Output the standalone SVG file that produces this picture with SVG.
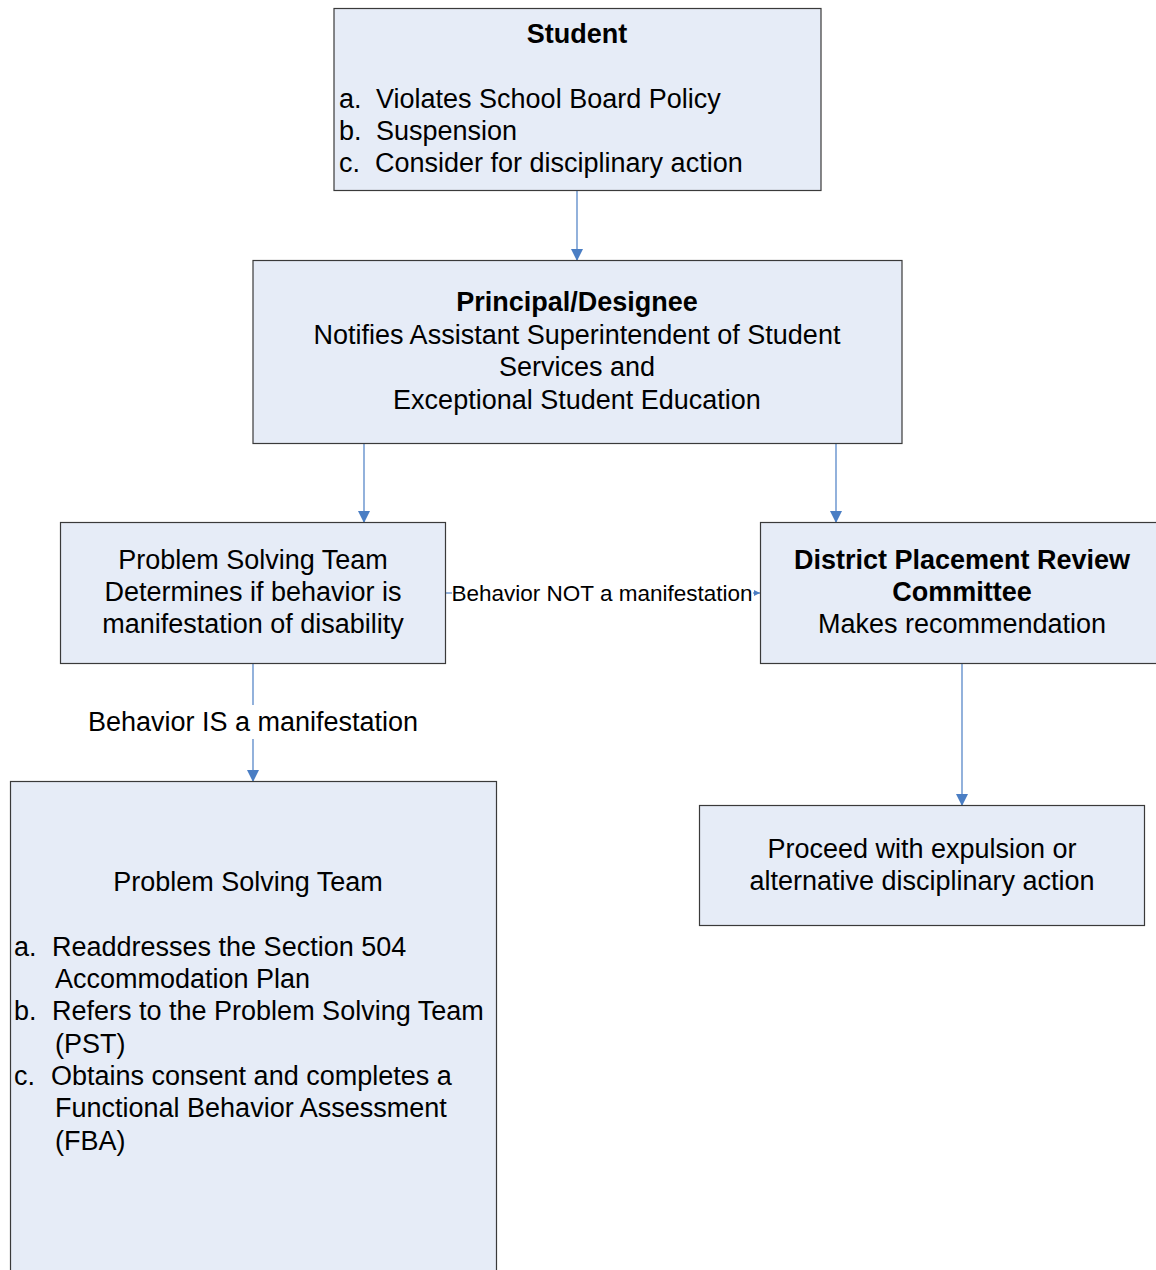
<svg xmlns="http://www.w3.org/2000/svg" width="1156" height="1270" viewBox="0 0 1156 1270">
<style>
.box{fill:#E6ECF7;stroke:#3a3a3a;stroke-width:1.2}
.t{font-family:"Liberation Sans",Arial,sans-serif;font-size:27px;fill:#000}
.b{font-weight:bold}
.c{text-anchor:middle}
.lbl{font-family:"Liberation Sans",Arial,sans-serif;font-size:22.5px;fill:#000}
.conn{stroke:#4A7EC4;stroke-width:1.2;fill:none}
</style>
<defs>
<marker id="ah" markerWidth="12" markerHeight="12" refX="11" refY="6" orient="auto" markerUnits="userSpaceOnUse">
<path d="M0,0 L12,6 L0,12 Z" fill="#4A7EC4"/>
</marker>
<marker id="ahs" markerWidth="6" markerHeight="6" refX="6" refY="3" orient="auto" markerUnits="userSpaceOnUse">
<path d="M0,0 L6,3 L0,6 Z" fill="#4A7EC4"/>
</marker>
</defs>
<rect width="1156" height="1270" fill="#fff"/>
<g id="connectors">
<line class="conn" x1="577" y1="190" x2="577" y2="260" marker-end="url(#ah)"/>
<line class="conn" x1="364" y1="443" x2="364" y2="522" marker-end="url(#ah)"/>
<line class="conn" x1="836" y1="443" x2="836" y2="522" marker-end="url(#ah)"/>
<line class="conn" x1="446" y1="593" x2="452" y2="593"/>
<line class="conn" x1="753" y1="593" x2="760" y2="593" marker-end="url(#ahs)"/>
<text class="lbl" x="602" y="601" text-anchor="middle">Behavior NOT a manifestation</text>
<line class="conn" x1="253" y1="663" x2="253" y2="705"/>
<line class="conn" x1="253" y1="739" x2="253" y2="781" marker-end="url(#ah)"/>
<text class="t" x="253" y="731" text-anchor="middle">Behavior IS a manifestation</text>
<line class="conn" x1="962" y1="663" x2="962" y2="805" marker-end="url(#ah)"/>
</g>
<g id="student">
<rect class="box" x="334" y="8.5" width="487" height="182"/>
<text class="t b c" x="577" y="43">Student</text>
<text class="t" y="108"><tspan x="339">a.</tspan><tspan x="376">Violates School Board Policy</tspan></text>
<text class="t" y="140"><tspan x="339">b.</tspan><tspan x="376">Suspension</tspan></text>
<text class="t" y="172"><tspan x="339">c.</tspan><tspan x="375">Consider for disciplinary action</tspan></text>
</g>
<g id="principal">
<rect class="box" x="253" y="260.5" width="649" height="183"/>
<text class="t b c" x="577" y="311">Principal/Designee</text>
<text class="t c" x="577" y="344">Notifies Assistant Superintendent of Student</text>
<text class="t c" x="577" y="376">Services and</text>
<text class="t c" x="577" y="409">Exceptional Student Education</text>
</g>
<g id="pst1">
<rect class="box" x="60.5" y="522.5" width="385" height="141"/>
<text class="t c" x="253" y="569">Problem Solving Team</text>
<text class="t c" x="253" y="601">Determines if behavior is</text>
<text class="t c" x="253" y="633">manifestation of disability</text>
</g>
<g id="dprc">
<rect class="box" x="760.5" y="522.5" width="400" height="141"/>
<text class="t b c" x="962" y="569">District Placement Review</text>
<text class="t b c" x="962" y="601">Committee</text>
<text class="t c" x="962" y="633">Makes recommendation</text>
</g>
<g id="pst2">
<rect class="box" x="10.5" y="781.5" width="486" height="500"/>
<text class="t c" x="248" y="891">Problem Solving Team</text>
<text class="t" y="956"><tspan x="14">a.</tspan><tspan x="52">Readdresses the Section 504</tspan></text>
<text class="t" x="55" y="988">Accommodation Plan</text>
<text class="t" y="1020"><tspan x="14">b.</tspan><tspan x="52">Refers to the Problem Solving Team</tspan></text>
<text class="t" x="55" y="1053">(PST)</text>
<text class="t" y="1085"><tspan x="14">c.</tspan><tspan x="51">Obtains consent and completes a</tspan></text>
<text class="t" x="55" y="1117">Functional Behavior Assessment</text>
<text class="t" x="55" y="1150">(FBA)</text>
</g>
<g id="proceed">
<rect class="box" x="699.5" y="805.5" width="445" height="120"/>
<text class="t c" x="922" y="858">Proceed with expulsion or</text>
<text class="t c" x="922" y="890">alternative disciplinary action</text>
</g>
</svg>
